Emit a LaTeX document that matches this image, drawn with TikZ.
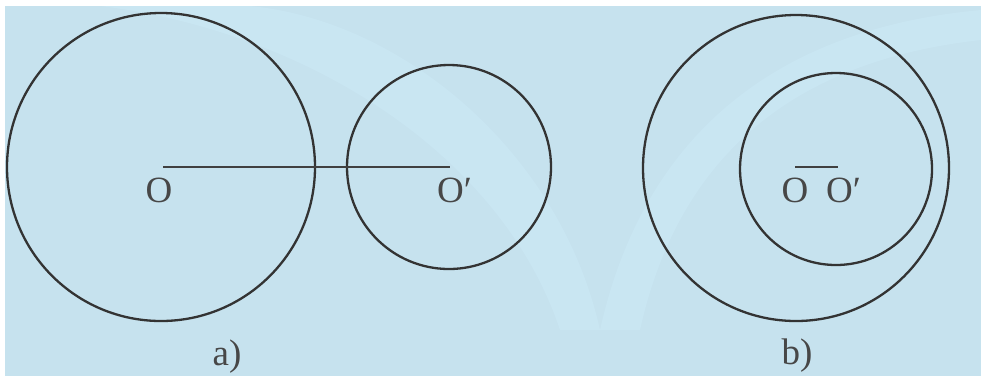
\documentclass[tikz,border=0pt]{standalone}
\usepackage{fontspec}
\setmainfont{Liberation Serif}
\begin{document}
\begin{tikzpicture}[x=1pt,y=1pt,
  geo/.style={draw=black!80, line width=2.3pt},
  seg/.style={draw=black!75, line width=2.8pt},
  lbl/.style={font=\fontsize{37}{37}\selectfont, text=black!72, inner sep=0pt}]
\useasboundingbox (0,0) rectangle (981,-376);
\fill[white] (0,0) rectangle (981,-376);
\fill[fill={rgb,255:red,198;green,226;blue,238}] (5,-6) rectangle (981,-376);
% faint watermark arcs
\begin{scope}
\clip (5,-6) rectangle (981,-376);
\fill[fill={rgb,255:red,205;green,235;blue,248}, opacity=0.45]
  (100,-6) .. controls (300,-30) and (500,-150) .. (560,-330) -- (600,-330) .. controls (560,-150) and (400,-20) .. (250,-6) -- cycle;
\fill[fill={rgb,255:red,205;green,235;blue,248}, opacity=0.45]
  (981,-40) .. controls (800,-60) and (680,-150) .. (640,-330) -- (600,-330) .. controls (640,-150) and (760,-30) .. (981,-10) -- cycle;
\end{scope}
% (a)
\coordinate (O1) at (163,-167);
\coordinate (P1) at (450,-167);
\draw[geo] (161,-167) circle (154);
\draw[geo] (449,-167) circle (102);
\draw[seg] (O1) -- (P1);
\node[lbl] (o1) at (159,-190) {O};
\node[lbl, anchor=west] (p1) at (437,-190) {O′};
\node[lbl] (la) at (227,-357) {a)};
% (b)
\coordinate (O2) at (795,-167);
\coordinate (P2) at (838,-167);
\draw[geo] (796,-168) circle (153);
\draw[geo] (836,-169) circle (96);
\draw[seg] (O2) -- (P2);
\node[lbl] (o2) at (795,-190) {O};
\node[lbl, anchor=west] (p2) at (826,-190) {O′};
\node[lbl] (lb) at (797,-356) {b)};
\end{tikzpicture}
\end{document}
